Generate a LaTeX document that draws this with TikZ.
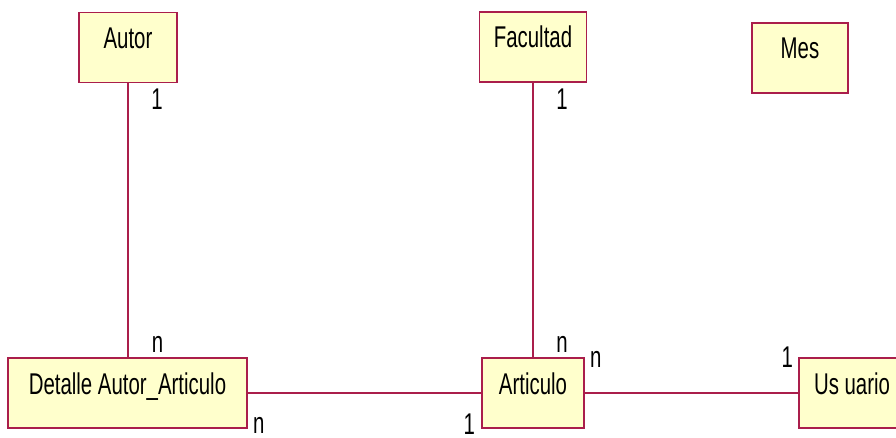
\documentclass[tikz,border=0pt]{standalone}
\usepackage{fontspec}
\newfontfamily\erfont[FakeStretch=0.68]{Liberation Sans}
\definecolor{erborde}{RGB}{170,30,75}
\definecolor{erfondo}{RGB}{255,255,204}

\begin{document}
\begin{tikzpicture}[
    x=1pt, y=1pt,
    entidad/.style={
        rectangle,
        draw=erborde,
        fill=erfondo,
        line width=1.6pt,
        minimum height=70pt,
        inner sep=0pt,
        text height=36pt,
        text depth=34pt,
        align=center,
        font=\erfont\fontsize{30}{30}\selectfont
    },
    card/.style={
        inner sep=0pt,
        font=\erfont\fontsize{30}{30}\selectfont
    },
    rel/.style={
        draw=erborde,
        line width=1.6pt
    }
]
\useasboundingbox (0,0) rectangle (896,437);

% Entidades de arriba
\node[entidad, minimum width=98pt] (autor) at (128,389.5) {Autor};
\node[entidad, minimum width=107pt] (facultad) at (533,390) {Facultad};
\node[entidad, minimum width=96pt] (mes) at (800,379) {Mes};

% Entidades de abajo
\node[entidad, minimum width=239pt] (detalle) at (127.5,44) {Detalle Autor\_Articulo};
\node[entidad, minimum width=102pt] (articulo) at (533,44) {Articulo};
\node[entidad, minimum width=106pt] (usuario) at (852,44) {Us uario};

% Relaciones
\draw[rel] (autor.south) -- (autor.south |- detalle.north);
\draw[rel] (facultad.south) -- (facultad.south |- articulo.north);
\draw[rel] (detalle.east) -- (articulo.west);
\draw[rel] (articulo.east) -- (usuario.west);

% Cardinalidades
\node[card] (c-autor) at ([xshift=29pt,yshift=-16pt]autor.south) {1};
\node[card] (c-detalle-a) at ([xshift=30pt,yshift=13pt]detalle.north) {n};
\node[card] (c-facultad) at ([xshift=29pt,yshift=-16pt]facultad.south) {1};
\node[card] (c-articulo-f) at ([xshift=29pt,yshift=13pt]articulo.north) {n};
\node[card] (c-detalle-b) at ([xshift=11pt,yshift=3pt]detalle.south east) {n};
\node[card] (c-articulo-d) at ([xshift=-12pt,yshift=5pt]articulo.south west) {1};
\node[card] (c-articulo-u) at ([xshift=11pt,yshift=-2pt]articulo.north east) {n};
\node[card] (c-usuario) at ([xshift=-11pt,yshift=0pt]usuario.north west) {1};

\end{tikzpicture}
\end{document}
